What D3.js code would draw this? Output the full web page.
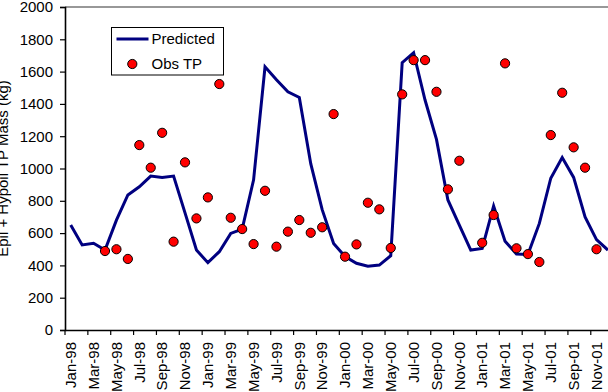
<!DOCTYPE html>
<html><head><meta charset="utf-8">
<script src="https://cdn.jsdelivr.net/npm/d3@7/dist/d3.min.js"></script>
<style>
html,body{margin:0;padding:0;background:#fff;overflow:hidden;}
text{font-family:"Liberation Sans",Arial,sans-serif;}
</style></head>
<body><svg id="c" width="608" height="392"></svg>
<script>
const categories = ["Jan-98","Feb-98","Mar-98","Apr-98","May-98","Jun-98","Jul-98","Aug-98","Sep-98","Oct-98","Nov-98","Dec-98",
"Jan-99","Feb-99","Mar-99","Apr-99","May-99","Jun-99","Jul-99","Aug-99","Sep-99","Oct-99","Nov-99","Dec-99",
"Jan-00","Feb-00","Mar-00","Apr-00","May-00","Jun-00","Jul-00","Aug-00","Sep-00","Oct-00","Nov-00","Dec-00",
"Jan-01","Feb-01","Mar-01","Apr-01","May-01","Jun-01","Jul-01","Aug-01","Sep-01","Oct-01","Nov-01","Dec-01"];
const predicted = [650,527,537,495,680,836,887,953,945,953,725,495,
417,485,598,625,930,1630,1550,1475,1440,1030,745,535,
455,413,395,402,460,1655,1717,1424,1180,805,650,495,
505,768,550,470,468,660,940,1068,945,700,560,495];
const obsTP = [null,null,null,489,500,440,1145,1005,1221,547,1038,691,
821,1523,695,625,532,862,516,609,681,602,636,1337,
454,530,788,747,508,1459,1671,1671,1475,871,1048,null,
540,712,1651,506,470,421,1207,1469,1131,1005,500,null];
const yTicks = [0,200,400,600,800,1000,1200,1400,1600,1800,2000];
const seriesNames = ["Predicted","Obs TP"];
const yTitle = "Epil + Hypoil TP Mass (kg)";

(function(){
const svg = d3.select("#c");
const mLeft = 65, mTop = 7, mBottom = 330, bw = 11.43;
const x = d3.scaleBand().domain(categories).range([mLeft, mLeft + bw*categories.length]).padding(0);
const cx = d => x(d) + x.bandwidth()/2;
const y = d3.scaleLinear().domain([0,2000]).range([mBottom, mTop]);
const fs = 15;

svg.append("line").attr("x1",mLeft).attr("x2",608).attr("y1",mTop).attr("y2",mTop)
  .attr("stroke","#333").attr("stroke-width",1.2);

const yAxis = d3.axisLeft(y).tickValues(yTicks).tickSize(5).tickPadding(7).tickFormat(d3.format("d"));
const gy = svg.append("g").attr("transform",`translate(${mLeft},0)`).call(yAxis);
gy.select(".domain").attr("stroke","#000").attr("stroke-width",1.6);
gy.selectAll(".tick line").attr("stroke","#000").attr("stroke-width",1.2);
gy.selectAll(".tick text").attr("font-size",fs).attr("fill","#000")
  .attr("font-family","Liberation Sans, Arial, sans-serif");

const xAxis = d3.axisBottom(x).tickValues([]).tickSizeOuter(0);
const gx = svg.append("g").attr("transform",`translate(0,${mBottom})`).call(xAxis);
gx.select(".domain").attr("stroke","#000").attr("stroke-width",1.6);
const evenCats = categories.filter((d,i)=>i%2===0);
gx.selectAll(".xt").data(evenCats).enter().append("line")
  .attr("x1",d=>x(d)).attr("x2",d=>x(d)).attr("y1",0).attr("y2",5)
  .attr("stroke","#000").attr("stroke-width",1.2);
gx.selectAll(".xl").data(evenCats).enter().append("text")
  .attr("transform",d=>`translate(${cx(d)},12) rotate(-90)`)
  .attr("text-anchor","end").attr("dy","0.35em")
  .attr("font-size",fs).attr("fill","#000").text(d=>d);

svg.append("text").attr("transform",`translate(8,${(mTop+mBottom)/2}) rotate(-90)`)
  .attr("text-anchor","middle").attr("font-size",fs).attr("fill","#000").text(yTitle);

const line = d3.line().x((d,i)=>cx(categories[i])).y(d=>y(d));
svg.append("path").datum(predicted).attr("d",line)
  .attr("fill","none").attr("stroke","#000080").attr("stroke-width",3).attr("stroke-linejoin","miter");

svg.selectAll(".obs").data(obsTP.map((v,i)=>({v,c:categories[i]})).filter(d=>d.v!==null))
  .enter().append("circle")
  .attr("cx",d=>cx(d.c)).attr("cy",d=>y(d.v)).attr("r",4.6)
  .attr("fill","#ff0000").attr("stroke","#000").attr("stroke-width",1);

const lg = svg.append("g");
lg.append("rect").attr("x",111.5).attr("y",27.5).attr("width",112).attr("height",47.5)
  .attr("fill","#fff").attr("stroke","#000").attr("stroke-width",1);
lg.append("line").attr("x1",116.5).attr("x2",148.5).attr("y1",39).attr("y2",39)
  .attr("stroke","#000080").attr("stroke-width",3);
lg.append("circle").attr("cx",132.3).attr("cy",64).attr("r",4.6)
  .attr("fill","#ff0000").attr("stroke","#000").attr("stroke-width",1);
lg.append("text").attr("x",151.5).attr("y",39).attr("dy","0.35em").attr("font-size",fs).text(seriesNames[0]);
lg.append("text").attr("x",151.5).attr("y",64).attr("dy","0.35em").attr("font-size",fs).text(seriesNames[1]);
})();
</script></body></html>
